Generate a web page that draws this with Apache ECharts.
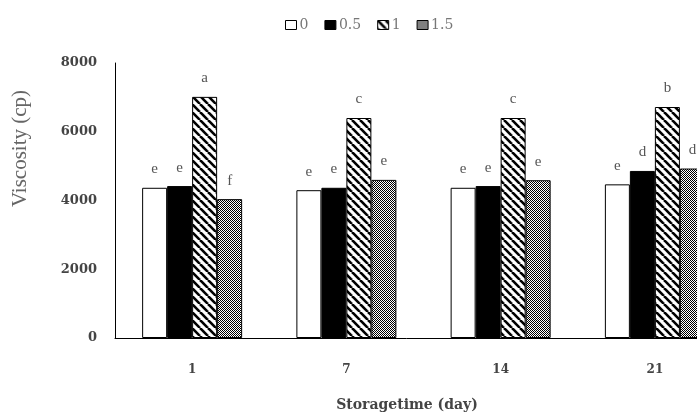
<!DOCTYPE html>
<html><head><meta charset="utf-8">
<script src="https://cdn.jsdelivr.net/npm/echarts@6/dist/echarts.min.js"></script>
<style>html,body{margin:0;padding:0;background:#fff}#c{width:697px;height:414px}</style>
</head><body><div id="c"></div>
<script>
const categories = ['1', '7', '14', '21'];
const seriesNames = ['0', '0.5', '1', '1.5'];
const v0 = [4370, 4300, 4370, 4470];
const v05 = [4420, 4370, 4420, 4860];
const v1 = [7015, 6400, 6400, 6720];
const v15 = [4040, 4600, 4590, 4930];
const l0 = ['e', 'e', 'e', 'e'];
const l05 = ['e', 'e', 'e', 'd'];
const l1 = ['a', 'c', 'c', 'b'];
const l15 = ['f', 'e', 'e', 'd'];
const yTicks = [0, 2000, 4000, 6000, 8000];

function hatch() {
  const c = document.createElement('canvas'); c.width = 8; c.height = 8;
  const g = c.getContext('2d'); g.fillStyle = '#fff'; g.fillRect(0,0,8,8);
  g.strokeStyle = '#000'; g.lineWidth = 2.6;
  for (let k = -8; k <= 16; k += 8) { g.beginPath(); g.moveTo(k, 0); g.lineTo(k + 8, 8); g.stroke(); }
  return c;
}
function checker() {
  const c = document.createElement('canvas'); c.width = 2; c.height = 2;
  const g = c.getContext('2d'); g.fillStyle = '#fff'; g.fillRect(0,0,2,2);
  g.fillStyle = '#000'; g.fillRect(0,0,1,1); g.fillRect(1,1,1,1);
  return c;
}
const fills = ['#ffffff', '#000000', {image: hatch(), repeat: 'repeat'}, {image: checker(), repeat: 'repeat'}];
const values = [v0, v05, v1, v15];
const letters = [l0, l05, l1, l15];
const serif = 'Liberation Serif';

const chart = echarts.init(document.getElementById('c'));
chart.setOption({
  animation: false,
  legend: {
    top: 13, left: 280, itemWidth: 11, itemHeight: 9, itemGap: 16, icon: 'rect',
    textStyle: {fontFamily: 'DejaVu Serif', fontSize: 14, color: '#777', padding: [0,0,0,-2]},
    data: seriesNames.map((n, i) => ({name: n, itemStyle: {borderColor: '#000', borderWidth: 1}}))
  },
  grid: {left: 115, width: 617, top: 63, bottom: 76, containLabel: false, outerBoundsMode: 'none'},
  xAxis: {
    type: 'category', data: categories,
    name: 'Storagetime (day)', nameLocation: 'middle', nameGap: 60,
    nameTextStyle: {fontFamily: 'DejaVu Serif', fontWeight: 'bold', fontSize: 14, color: '#444', padding: [0,0,0,-33]},
    axisLine: {lineStyle: {color: '#000', width: 1}},
    axisTick: {show: false},
    axisLabel: {fontFamily: 'DejaVu Serif', fontWeight: 'bold', fontSize: 12, color: '#444', margin: 26}
  },
  yAxis: {
    type: 'value', min: 0, max: 8000, interval: 2000,
    name: 'Viscosity (cp)', nameLocation: 'middle', nameGap: 84,
    nameTextStyle: {fontFamily: serif, fontSize: 21, color: '#666', padding: [0,0,0,104]},
    axisLine: {show: true, lineStyle: {color: '#000', width: 1}},
    axisTick: {show: false},
    splitLine: {show: false},
    axisLabel: {fontFamily: 'DejaVu Serif', fontWeight: 'bold', fontSize: 13, color: '#444', margin: 18,
      formatter: v => yTicks.includes(v) ? String(v) : ''}
  },
  series: values.map((vals, i) => ({
    name: seriesNames[i], type: 'bar', data: vals, barWidth: 25, barGap: '0%',
    itemStyle: {color: fills[i], borderColor: '#000', borderWidth: 1},
    label: {show: true, position: 'top', distance: 11, fontFamily: serif, fontSize: 15, color: '#555',
      formatter: p => letters[i][p.dataIndex]}
  }))
});
</script></body></html>
